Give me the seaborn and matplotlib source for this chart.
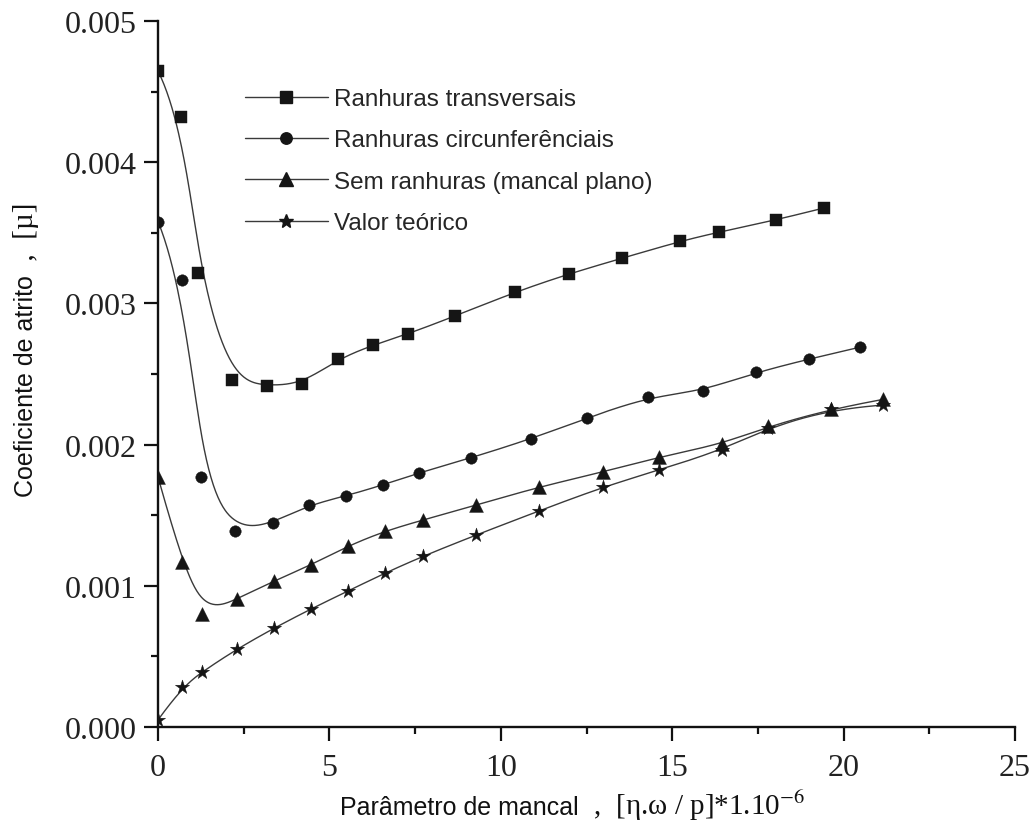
import numpy as np
import pandas as pd
import matplotlib
matplotlib.use("Agg")
import matplotlib.pyplot as plt
from matplotlib.lines import Line2D
import seaborn as sns

# ---------------- data ----------------
labels = ["Ranhuras transversais", "Ranhuras circunferênciais",
          "Sem ranhuras (mancal plano)", "Valor teórico"]
markers = ["s", "o", "^", "*"]
marker_sizes = [68, 68, 100, 115]

x_transv = [0, 0.67, 1.17, 2.16, 3.18, 4.20, 5.25, 6.27, 7.29, 8.66, 10.41,
            11.99, 13.54, 15.23, 16.37, 18.03, 19.43]
y_transv = [4.646, 4.32, 3.215, 2.457, 2.415, 2.43, 2.606, 2.705, 2.783, 2.91,
            3.08, 3.21, 3.32, 3.44, 3.506, 3.59, 3.676]

x_circ = [0, 0.70, 1.25, 2.25, 3.35, 4.40, 5.48, 6.56, 7.61, 9.12, 10.88,
          12.51, 14.29, 15.90, 17.44, 18.99, 20.48]
y_circ = [3.58, 3.166, 1.77, 1.388, 1.445, 1.572, 1.636, 1.714, 1.80, 1.905,
          2.04, 2.188, 2.337, 2.38, 2.514, 2.606, 2.69]

x_plano = [0, 0.70, 1.28, 2.30, 3.38, 4.46, 5.54, 6.62, 7.73, 9.28, 11.11,
           12.98, 14.62, 16.45, 17.80, 19.63, 21.15]
y_plano = [1.77, 1.168, 0.80, 0.906, 1.034, 1.147, 1.282, 1.388, 1.466, 1.572,
           1.70, 1.806, 1.912, 2.004, 2.13, 2.252, 2.32]

x_teor = [0, 0.70, 1.28, 2.30, 3.38, 4.46, 5.54, 6.62, 7.73, 9.28, 11.11,
          12.98, 14.62, 16.45, 17.80, 19.63, 21.15]
y_teor = [0.05, 0.283, 0.39, 0.552, 0.70, 0.836, 0.963, 1.09, 1.21, 1.36,
          1.53, 1.70, 1.82, 1.962, 2.12, 2.252, 2.28]

y_scale = 1e-3
x_ticks = [0, 5, 10, 15, 20, 25]
y_ticks = [0.000, 0.001, 0.002, 0.003, 0.004, 0.005]

series = [(x_transv, y_transv), (x_circ, y_circ), (x_plano, y_plano), (x_teor, y_teor)]


# ---------------- B-spline connection (data points as control points) ----------------
def bspline(xs, ys, n=600, k=3):
    P = np.column_stack([xs, ys]).astype(float)
    m = len(P)
    inner = np.linspace(0, 1, m - k + 1)
    t = np.concatenate([np.zeros(k), inner, np.ones(k)])
    u = np.linspace(0, 1, n)
    nb = len(t) - 1
    N = np.zeros((n, nb))
    for i in range(nb):
        N[:, i] = (t[i] <= u) & (u < t[i + 1])
    last = np.max(np.where(t < 1)[0])
    N[u >= 1, :] = 0
    N[u >= 1, last] = 1
    for p in range(1, k + 1):
        newN = np.zeros((n, nb - p))
        for i in range(nb - p):
            a = np.zeros(n)
            b = np.zeros(n)
            d1 = t[i + p] - t[i]
            d2 = t[i + p + 1] - t[i + 1]
            if d1 > 0:
                a = (u - t[i]) / d1 * N[:, i]
            if d2 > 0:
                b = (t[i + p + 1] - u) / d2 * N[:, i + 1]
            newN[:, i] = a + b
        N = newN
    C = N @ P
    return C[:, 0], C[:, 1]


# ---------------- style ----------------
sns.set_style("ticks")
plt.rcParams["font.family"] = ["Liberation Sans", "DejaVu Sans"]
plt.rcParams["mathtext.fontset"] = "stix"

W, H = 1033, 828
fig = plt.figure(figsize=(W / 100, H / 100), dpi=100)
ax = fig.add_axes([158 / W, 1 - 728 / H, (1015 - 158) / W, (728 - 22) / H])

line_color = "#3a3a3a"
mark_color = "#151515"

for (xs, ys), mk, ms in zip(series, markers, marker_sizes):
    cx, cy = bspline(xs, ys)
    df_curve = pd.DataFrame({"x": cx, "y": cy * y_scale})
    sns.lineplot(data=df_curve, x="x", y="y", ax=ax, sort=False, estimator=None,
                 color=line_color, linewidth=1.0)
    df_pts = pd.DataFrame({"x": xs, "y": np.array(ys) * y_scale})
    sns.scatterplot(data=df_pts, x="x", y="y", ax=ax, marker=mk, s=ms,
                    color=mark_color, edgecolor=mark_color, linewidth=0.3, zorder=3)

ax.set_xlim(0, 25)
ax.set_ylim(0, 0.005)
ax.set_xticks(x_ticks)
ax.set_yticks(y_ticks)
ax.set_xticklabels([str(v) for v in x_ticks])
ax.set_yticklabels([f"{v:.3f}" for v in y_ticks])
ax.set_xticks([2.5, 7.5, 12.5, 17.5, 22.5], minor=True)
ax.set_yticks([0.0005, 0.0015, 0.0025, 0.0035, 0.0045], minor=True)
ax.set_xlabel("")
ax.set_ylabel("")

for s in ["top", "right"]:
    ax.spines[s].set_visible(False)
for s in ["left", "bottom"]:
    ax.spines[s].set_linewidth(1.7)
    ax.spines[s].set_color("#111111")

ax.tick_params(which="major", direction="out", length=10, width=1.6, color="#111111")
ax.tick_params(which="minor", direction="out", length=5, width=1.6, color="#111111")
ax.tick_params(axis="y", which="major", pad=5.5)
ax.tick_params(axis="x", which="major", pad=9)
for lab in ax.get_xticklabels() + ax.get_yticklabels():
    lab.set_family(["Liberation Serif", "DejaVu Serif"])
    lab.set_fontsize(23)
    lab.set_color("#222222")

# ---------------- legend ----------------
handles = [Line2D([0], [0], color=line_color, lw=1.0, marker=mk, markersize=np.sqrt(ms),
                  markerfacecolor=mark_color, markeredgecolor=mark_color)
           for mk, ms in zip(markers, marker_sizes)]
ax.legend(handles, labels, loc="upper left",
          bbox_to_anchor=((245 - 158) / (1015 - 158), (728 - 89) / 706),
          frameon=False, borderaxespad=0, borderpad=0, fontsize=17.5,
          handlelength=3.4, handletextpad=0.25, labelspacing=0.8)

# ---------------- axis labels (sans part + serif part) ----------------
sans = ["Liberation Sans", "DejaVu Sans"]
serif = ["Liberation Serif", "DejaVu Serif"]
lab_size = 18

tx1 = fig.text(340 / W, 1 - 815 / H, "Parâmetro de mancal", family=sans, fontsize=lab_size,
               ha="left", va="baseline", color="#111111")
ty1 = fig.text(33 / W, 1 - 497 / H, "Coeficiente de atrito", family=sans, fontsize=lab_size,
               rotation=90, rotation_mode="anchor", ha="left", va="baseline", color="#111111")
fig.canvas.draw()
r = fig.canvas.get_renderer()
bbx = tx1.get_window_extent(r)
bby = ty1.get_window_extent(r)
fig.text(bbx.x1 / W, 1 - 815 / H, r"  ,  [η.ω / p]*1.10$^{-6}$", family=serif, fontsize=21,
         ha="left", va="baseline", color="#111111")
fig.text(33 / W, bby.y1 / H, "  ,  [µ]", family=serif, fontsize=21, rotation=90,
         rotation_mode="anchor", ha="left", va="baseline", color="#111111")

fig.savefig("out.png", dpi=100)
